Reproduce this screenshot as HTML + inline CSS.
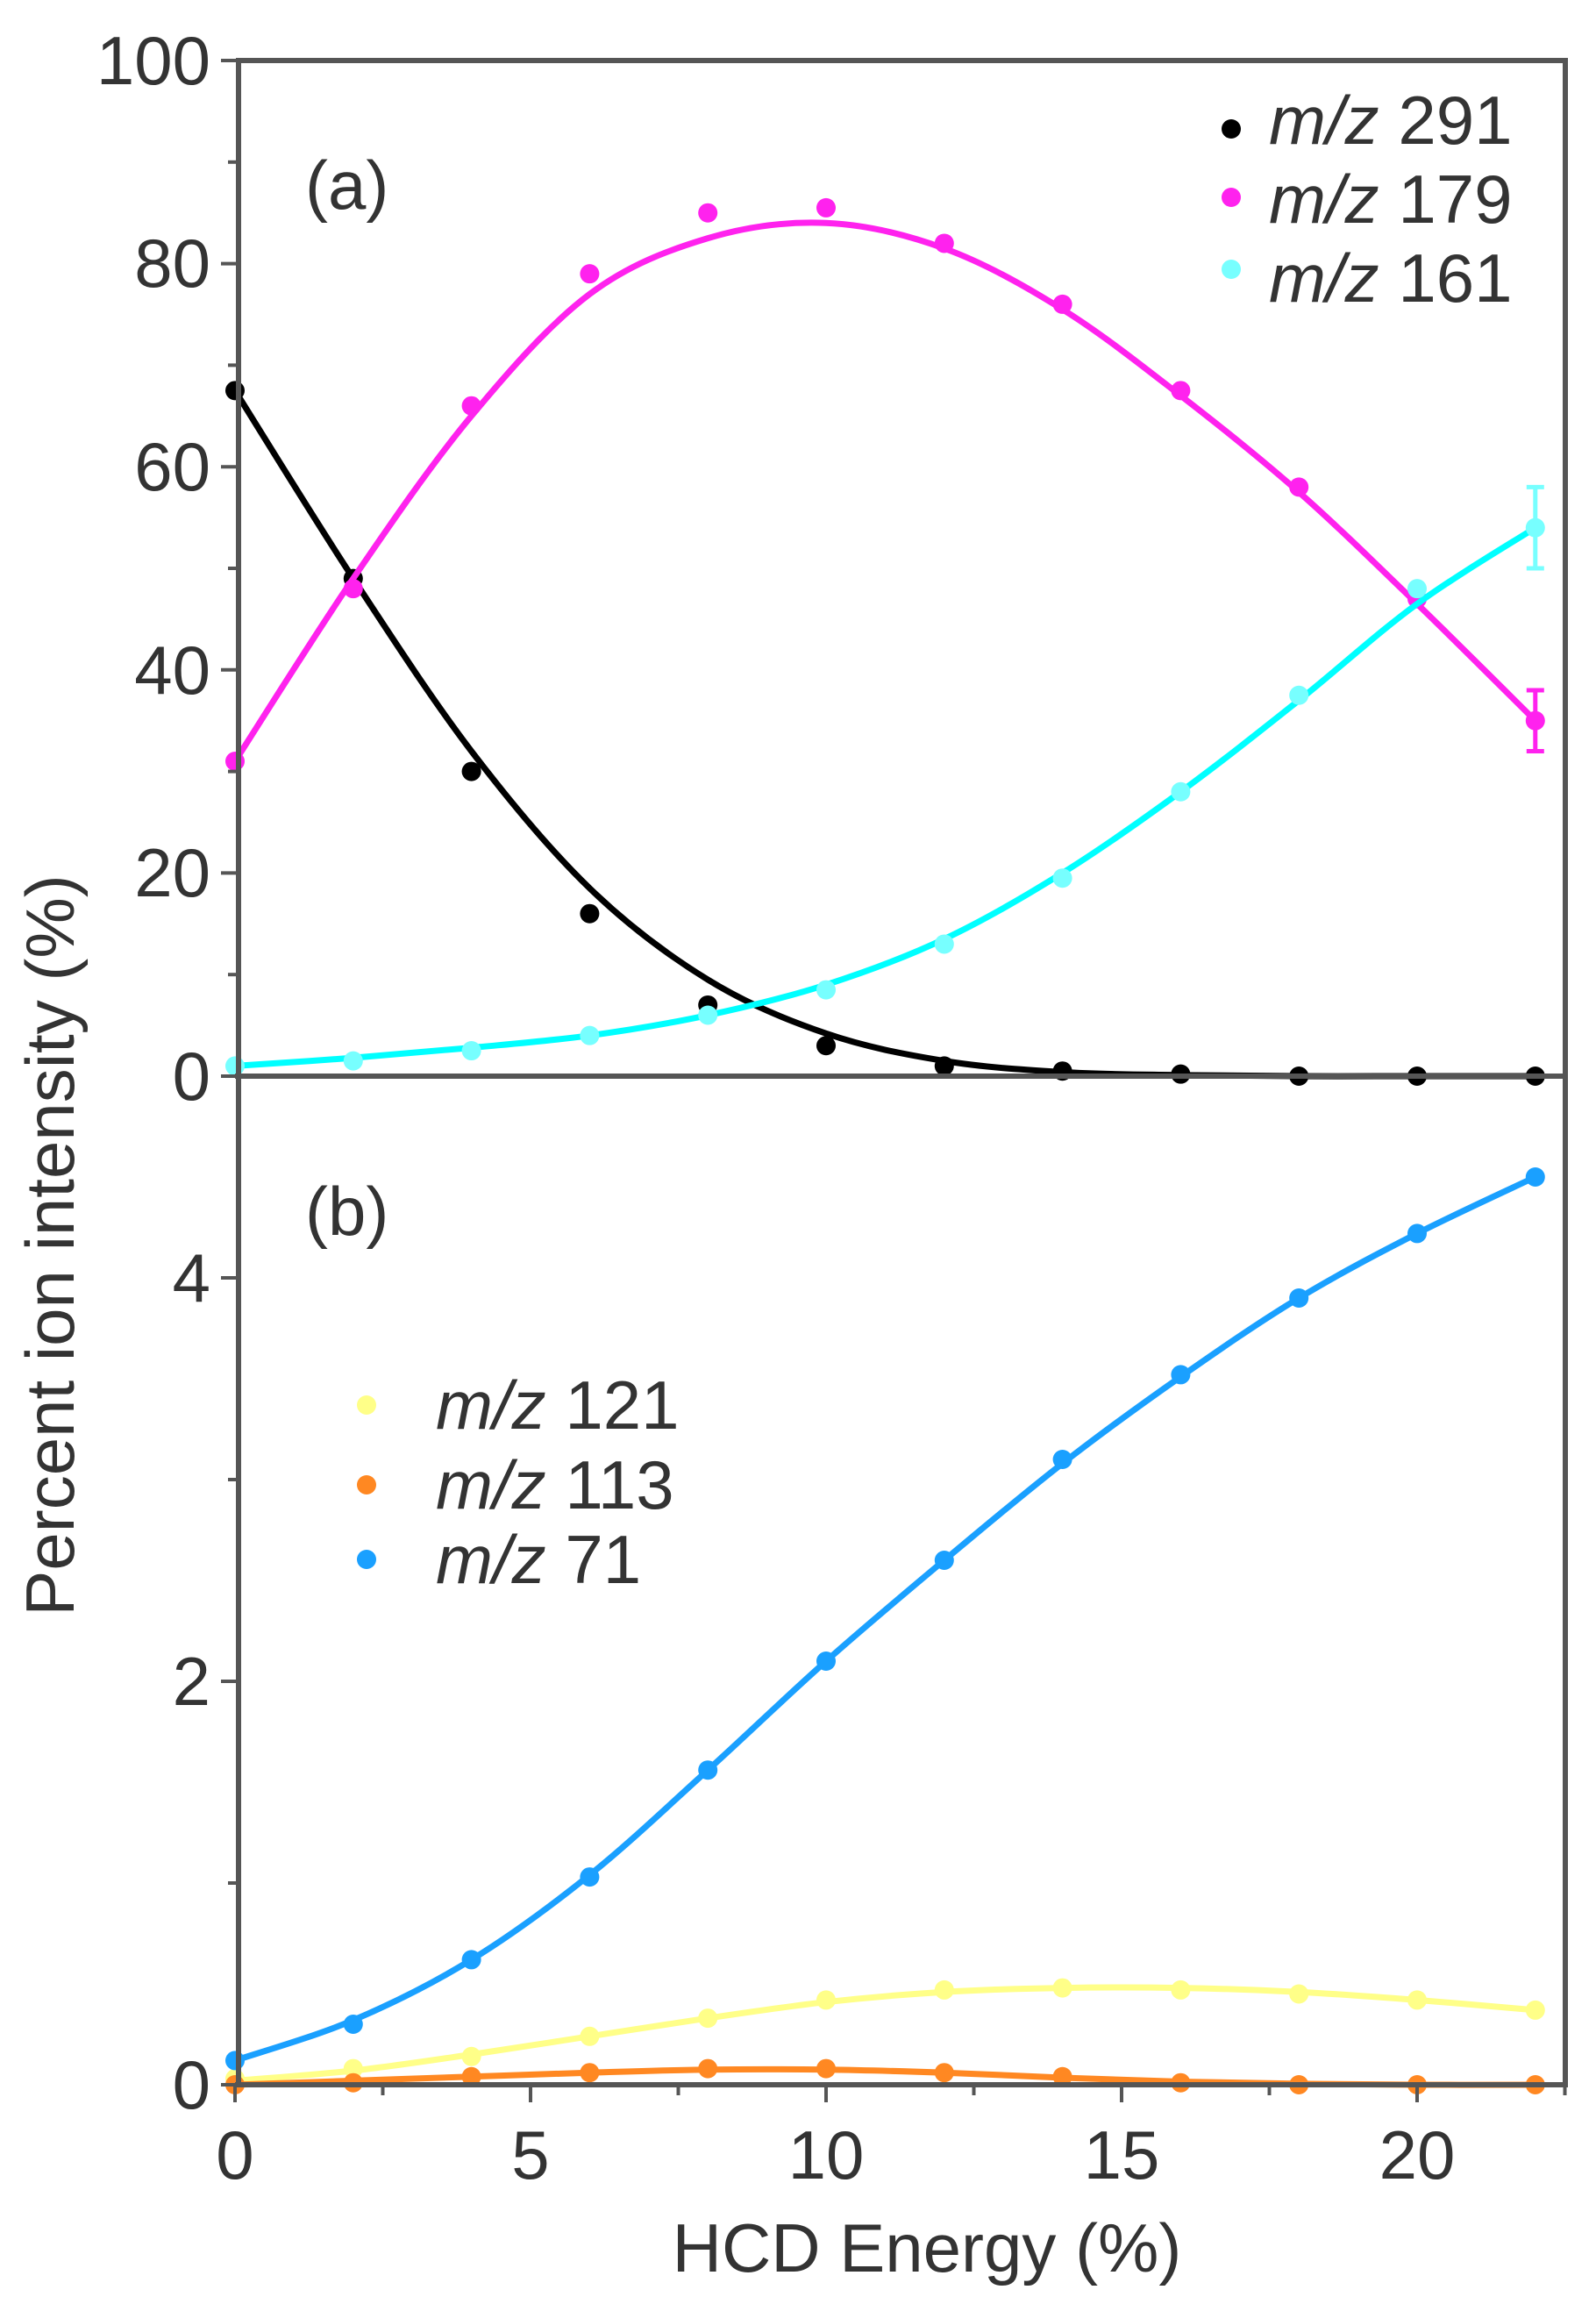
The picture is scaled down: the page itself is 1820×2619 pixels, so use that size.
<!DOCTYPE html>
<html><head><meta charset="utf-8"><style>
html,body{margin:0;padding:0;background:#fff;}
svg{display:block;}
text{font-family:"Liberation Sans",sans-serif;fill:#333;}
</style></head><body>
<svg id="s" width="1820" height="2619" viewBox="0 0 1820 2619" xmlns="http://www.w3.org/2000/svg">
<rect width="1820" height="2619" fill="#fff"/>
<g id="plot"></g>
<g stroke="#555" stroke-width="6" fill="none">
<line x1="272" y1="69" x2="1785" y2="69"/>
<line x1="272" y1="66" x2="272" y2="2380"/>
<line x1="1785" y1="66" x2="1785" y2="2380"/>
<line x1="268" y1="1227" x2="1785" y2="1227"/>
<line x1="268" y1="2377" x2="1785" y2="2377"/>
</g>
<g id="ticks" stroke="#555" stroke-width="4"></g>
<g font-size="78" text-anchor="end">
<text x="240" y="96">100</text>
<text x="240" y="327">80</text>
<text x="240" y="559">60</text>
<text x="240" y="791">40</text>
<text x="240" y="1022">20</text>
<text x="240" y="1254">0</text>
<text x="240" y="1484">4</text>
<text x="240" y="1944">2</text>
<text x="240" y="2404">0</text>
</g>
<g font-size="78" text-anchor="middle">
<text x="268" y="2484">0</text>
<text x="605" y="2484">5</text>
<text x="942" y="2484">10</text>
<text x="1279" y="2484">15</text>
<text x="1616" y="2484">20</text>
<text x="1057" y="2590">HCD Energy (%)</text>
<text transform="translate(84,1420) rotate(-90)">Percent ion intensity (%)</text>
</g>
<g font-size="78">
<text x="348" y="238">(a)</text>
<text x="348" y="1408">(b)</text>
<text x="1447" y="164"><tspan font-style="italic">m/z</tspan> 291</text>
<text x="1447" y="254"><tspan font-style="italic">m/z</tspan> 179</text>
<text x="1447" y="344"><tspan font-style="italic">m/z</tspan> 161</text>
<text x="497" y="1629"><tspan font-style="italic">m/z</tspan> 121</text>
<text x="497" y="1720"><tspan font-style="italic">m/z</tspan> 113</text>
<text x="497" y="1805"><tspan font-style="italic">m/z</tspan> 71</text>
</g>
<g>
<circle cx="1404" cy="147" r="11" fill="#000"/>
<circle cx="1404" cy="225" r="11" fill="#ff22ee"/>
<circle cx="1404" cy="307" r="11" fill="#77ffff"/>
<circle cx="418" cy="1602" r="11" fill="#ffff88"/>
<circle cx="418" cy="1693" r="11" fill="#ff8822"/>
<circle cx="418" cy="1778" r="11" fill="#1aa0ff"/>
</g>
</svg>
<script>
var NS="http://www.w3.org/2000/svg";
function X(v){return 268+67.4*v;}
function YT(v){return 1227-11.58*v;}
function YB(v){return 2377-230*v;}
var xs=[0,2,4,6,8,10,12,14,16,18,20,22];
var series=[
 {c:"#000",m:"#000",f:YT,d:[67.5,49,30,16,7,3,1,0.5,0.2,0,0,0],fit:[67.5,49,32,18.5,9.5,4.2,1.5,0.4,0.1,0,0,0]},
 {c:"#ff22ee",m:"#ff22ee",f:YT,d:[31,48,66,79,85,85.5,82,76,67.5,58,47,35],fit:[31,49,65,77,82.5,84,81.5,75.5,67,57.5,46.5,35]},
 {c:"#00ffff",m:"#77ffff",f:YT,d:[1,1.5,2.5,4,6,8.5,13,19.5,28,37.5,48,54],fit:[1,1.8,2.8,4,6,9,13.5,20,28,37,46.5,54]},
 {c:"#ffff88",m:"#ffff88",f:YB,d:[0.03,0.08,0.14,0.24,0.33,0.42,0.47,0.48,0.47,0.45,0.42,0.37],fit:[0.02,0.07,0.15,0.24,0.33,0.41,0.46,0.48,0.48,0.46,0.42,0.37]},
 {c:"#ff8822",m:"#ff8822",f:YB,d:[0,0.01,0.04,0.06,0.08,0.08,0.06,0.04,0.01,0,0,0],fit:[0,0.02,0.04,0.06,0.075,0.075,0.06,0.035,0.015,0.005,0,0]},
 {c:"#1aa0ff",m:"#1aa0ff",f:YB,d:[0.12,0.3,0.62,1.03,1.56,2.1,2.6,3.1,3.52,3.9,4.22,4.5],fit:[0.12,0.32,0.62,1.04,1.56,2.1,2.6,3.08,3.51,3.9,4.22,4.5]}
];
var g=document.getElementById("plot");
function el(n,a){var e=document.createElementNS(NS,n);for(var k in a)e.setAttribute(k,a[k]);g.appendChild(e);return e;}
series.forEach(function(s){
 var p=xs.map(function(x,i){return [X(x),s.f(s.fit[i])];});
 var d="M"+p[0][0]+","+p[0][1];
 for(var i=0;i<p.length-1;i++){
  var p0=p[Math.max(i-1,0)],p1=p[i],p2=p[i+1],p3=p[Math.min(i+2,p.length-1)];
  var c1=[p1[0]+(p2[0]-p0[0])/6,p1[1]+(p2[1]-p0[1])/6];
  var c2=[p2[0]-(p3[0]-p1[0])/6,p2[1]-(p3[1]-p1[1])/6];
  d+=" C"+c1+" "+c2+" "+p2;
 }
 el("path",{d:d,fill:"none",stroke:s.c,"stroke-width":7});
 xs.forEach(function(x,i){el("circle",{cx:X(x),cy:s.f(s.d[i]),r:11,fill:s.m});});
});
[["#ff22ee",35,3],["#77ffff",54,4]].forEach(function(e){
 var x=X(22),y1=YT(e[1]+e[2]),y2=YT(e[1]-e[2]);
 el("line",{x1:x,x2:x,y1:y1,y2:y2,stroke:e[0],"stroke-width":5});
 el("line",{x1:x-10,x2:x+10,y1:y1,y2:y1,stroke:e[0],"stroke-width":5});
 el("line",{x1:x-10,x2:x+10,y1:y2,y2:y2,stroke:e[0],"stroke-width":5});
});
var t=document.getElementById("ticks");
function tl(a){var e=document.createElementNS(NS,"line");for(var k in a)e.setAttribute(k,a[k]);t.appendChild(e);}
for(var v=0;v<=100;v+=10){var y=YT(v);tl({x1:v%20?260:252,x2:272,y1:y,y2:y});}
for(var v=0;v<=5;v++){var y=YB(v);tl({x1:v%2?260:252,x2:272,y1:y,y2:y});}
for(var v=0;v<=22.5;v+=2.5){var x=X(v);tl({x1:x,x2:x,y1:2377,y2:(v%5)?2389:2397});}
</script>
</body></html>
